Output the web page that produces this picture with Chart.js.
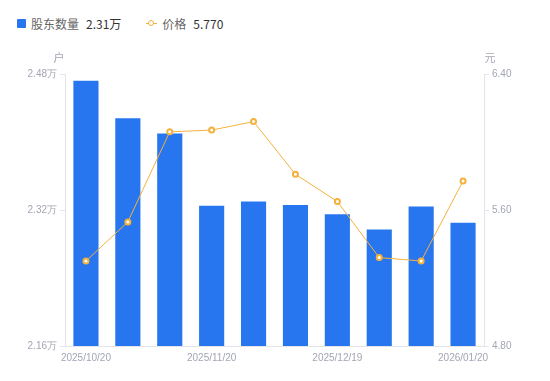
<!DOCTYPE html>
<html><head><meta charset="utf-8">
<script src="https://cdn.jsdelivr.net/npm/chart.js@4"></script>
<style>
html,body{margin:0;padding:0;background:#fff;}
#wrap{position:relative;width:550px;height:381px;font-family:"Noto Sans CJK SC","Noto Sans",sans-serif;}
#legend{position:absolute;left:17px;top:15px;font-size:12px;display:flex;align-items:center;white-space:nowrap;}
.sw{display:inline-block;width:9px;height:9px;background:#2776f0;border-radius:1px;margin-right:5px;}
.nm{color:#666;margin-right:7px;}
.vl{color:#333;}
.ln{display:inline-block;position:relative;width:11px;height:9px;margin-right:5px;}
.ln:before{content:"";position:absolute;left:0;right:0;top:4px;height:1px;background:#f5b13d;}
.ln:after{content:"";position:absolute;left:2px;top:1px;width:4px;height:4px;border:1.5px solid #f5b13d;border-radius:50%;background:#fff;}
canvas{position:absolute;left:0;top:0;}
</style></head>
<body><div id="wrap">
<div id="legend"><span class="sw"></span><span class="nm">股东数量</span><span class="vl">2.31万</span><span style="display:inline-block;width:25px"></span><span class="ln"></span><span class="nm">价格</span><span class="vl">5.770</span></div>
<canvas id="c" width="550" height="381"></canvas>
</div>
<script>
const categories = ["2025/10/20","2025/10/31","2025/11/10","2025/11/20","2025/11/28","2025/12/10","2025/12/19","2025/12/31","2026/01/09","2026/01/20"];
const holders = [2.472, 2.428, 2.410, 2.325, 2.330, 2.326, 2.315, 2.297, 2.324, 2.305];
const prices = [5.30, 5.53, 6.06, 6.07, 6.12, 5.81, 5.65, 5.32, 5.30, 5.77];
const shownLabels = ["2025/10/20","2025/11/20","2025/12/19","2026/01/20"];
const leftTicks = [2.16, 2.32, 2.48];
const rightTicks = [4.80, 5.60, 6.40];

const tickColor = '#a3a5b3';
const axisColor = '#e3e4e8';
const unitPlugin = {
  id:'units',
  afterDraw(chart){
    const {ctx, chartArea} = chart;
    ctx.save();
    ctx.font = '11px "Noto Sans CJK SC", sans-serif';
    ctx.fillStyle = tickColor;
    ctx.textAlign = 'center';
    ctx.textBaseline = 'middle';
    ctx.fillText('户', chartArea.left - 6, chartArea.top - 16);
    ctx.fillText('元', chartArea.right + 6, chartArea.top - 16);
    ctx.restore();
  }
};
new Chart(document.getElementById('c'), {
  data: {
    labels: categories,
    datasets: [
      {type:'line', label:'价格', data: prices, yAxisID:'y1', borderColor:'#f5b13d', borderWidth:1,
       pointRadius:2.5, pointBorderWidth:2, pointBackgroundColor:'#fff', pointBorderColor:'#f5b13d', tension:0, order:0},
      {type:'bar', label:'股东数量', data: holders, yAxisID:'y', backgroundColor:'#2776f0',
       categoryPercentage:0.6, barPercentage:1, order:1}
    ]
  },
  options: {
    responsive:false, animation:false,
    layout:{padding:{top:74, left:0, right:0, bottom:0}},
    plugins:{legend:{display:false}, tooltip:{enabled:false}},
    scales:{
      x:{
        grid:{display:false, drawTicks:false},
        border:{color:axisColor},
        ticks:{autoSkip:false, maxRotation:0, color:tickColor, font:{size:10}, padding:6,
          callback:function(v,i){const l=this.getLabelForValue(v); return shownLabels.includes(l)? l : '';}},
        afterFit(s){s.height = 35;}
      },
      y:{
        position:'left', min:2.16, max:2.48,
        afterBuildTicks(s){s.ticks = leftTicks.map(v=>({value:v}));},
        grid:{drawOnChartArea:false, tickLength:5, color:axisColor},
        border:{color:axisColor},
        ticks:{color:tickColor, font:{size:10}, padding:3, callback:v=>v.toFixed(2)+'万'},
        afterFit(s){s.width = 65;}
      },
      y1:{
        position:'right', min:4.8, max:6.4,
        afterBuildTicks(s){s.ticks = rightTicks.map(v=>({value:v}));},
        grid:{drawOnChartArea:false, tickLength:5, color:axisColor},
        border:{color:axisColor},
        ticks:{color:tickColor, font:{size:10}, padding:3, callback:v=>v.toFixed(2)},
        afterFit(s){s.width = 66;}
      }
    }
  },
  plugins:[unitPlugin]
});
</script>
</body></html>
